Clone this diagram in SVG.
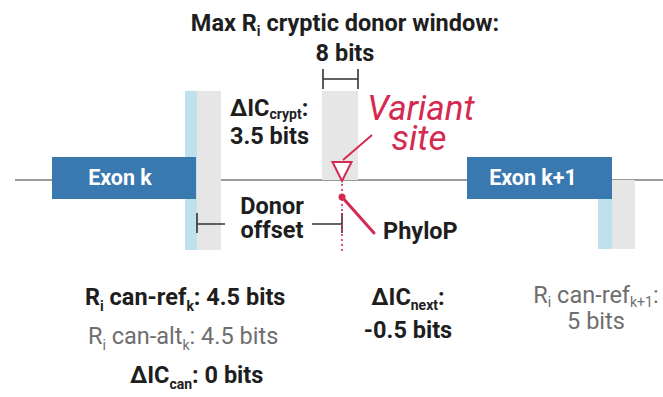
<svg xmlns="http://www.w3.org/2000/svg" width="663" height="397" viewBox="0 0 663 397">
  <style>
    text { font-family: Roboto, "Liberation Sans", sans-serif; font-size: 23.5px; }
    .b { font-weight: 700; fill: #1e1e1e; }
    .g { font-weight: 400; fill: #6e6e6e; }
    .sub { font-size: 14px; }
    .exon { fill: #3a78b0; }
    .exlabel { font-weight: 700; fill: #ffffff; font-size: 21.5px; }
    .site { fill: #bfe0ed; }
    .win { fill: #e6e6e6; }
    .red { fill: #d42a52; }
    .vs { font-size: 35px; font-style: italic; font-weight: 400; }
    .bracket { stroke: #333; stroke-width: 1.6; fill: none; }
  </style>

  <rect width="663" height="397" fill="#ffffff"/>

  <!-- intron backbone -->
  <line x1="15" y1="180" x2="663" y2="180" stroke="#9a9a9a" stroke-width="2"/>

  <!-- canonical donor window, exon k -->
  <g id="donor-k">
    <rect class="site" x="185" y="91" width="12" height="159"/>
    <rect class="win" x="197" y="91" width="24" height="159"/>
  </g>

  <!-- cryptic donor window -->
  <g id="cryptic-window">
    <rect class="win" x="322" y="91" width="36" height="89"/>
  </g>

  <!-- canonical donor window, exon k+1 -->
  <g id="donor-k1">
    <rect class="site" x="598" y="180" width="14" height="69"/>
    <rect class="win" x="612" y="180" width="23" height="69"/>
  </g>

  <g id="exon-k">
    <rect class="exon" x="52" y="157" width="144" height="42"/>
    <text class="exlabel" x="120" y="185" text-anchor="middle">Exon k</text>
  </g>

  <g id="exon-k1">
    <rect class="exon" x="467" y="157" width="145" height="42"/>
    <text class="exlabel" x="533" y="185" text-anchor="middle">Exon k+1</text>
  </g>

  <g id="connectors">
    <!-- 8 bit window bracket -->
    <path class="bracket" d="M323 69 V89 M323 79 H358 M358 69 V89"/>
    <!-- donor offset bracket -->
    <path class="bracket" d="M197 213 V233 M197 224 H225 M312 224 H342 M342 213 V233"/>
    <!-- pointer from label to variant -->
    <line x1="372" y1="135" x2="343" y2="160" stroke="#d42a52" stroke-width="2"/>
    <!-- variant position -->
    <line x1="342" y1="184" x2="342" y2="253" stroke="#d42a52" stroke-width="1.6" stroke-dasharray="2 3"/>
    <!-- PhyloP lollipop -->
    <line x1="342" y1="197" x2="374" y2="233" stroke="#d42a52" stroke-width="3" stroke-linecap="round"/>
    <circle class="red" cx="342" cy="197" r="3.5"/>
  </g>

  <g id="variant">
    <polygon points="332.5,162 351.5,162 342,181" fill="#ffffff" stroke="#d42a52" stroke-width="2" stroke-linejoin="miter"/>
    <text x="421" y="120" text-anchor="middle" class="red vs">Variant</text>
    <text x="419" y="150" text-anchor="middle" class="red vs">site</text>
  </g>

  <g id="title">
    <text class="b" x="345" y="31" text-anchor="middle">Max R<tspan class="sub" dy="5">i</tspan><tspan dy="-5"> cryptic donor window:</tspan></text>
    <text class="b" x="345" y="61" text-anchor="middle">8 bits</text>
  </g>

  <g id="delta-crypt">
    <text class="b" x="230" y="116">ΔIC<tspan class="sub" dy="3">crypt</tspan><tspan dy="-3">:</tspan></text>
    <text class="b" x="230" y="144">3.5 bits</text>
  </g>

  <g id="donor-offset">
    <text class="b" x="272" y="214" text-anchor="middle">Donor</text>
    <text class="b" x="272" y="238" text-anchor="middle">offset</text>
  </g>

  <g id="phylop">
    <text class="b" x="383" y="239">PhyloP</text>
  </g>

  <g id="scores-k">
    <text class="b" x="85" y="305">R<tspan class="sub" dy="6">i</tspan><tspan dy="-6"> can-ref</tspan><tspan class="sub" dy="6">k</tspan><tspan dy="-6">: 4.5 bits</tspan></text>
    <text class="g" x="88" y="344">R<tspan class="sub" dy="6">i</tspan><tspan dy="-6"> can-alt</tspan><tspan class="sub" dy="6">k</tspan><tspan dy="-6">: 4.5 bits</tspan></text>
    <text class="b" x="130" y="383">ΔIC<tspan class="sub" dy="6">can</tspan><tspan dy="-6">: 0 bits</tspan></text>
  </g>

  <g id="delta-next">
    <text class="b" x="408" y="305" text-anchor="middle">ΔIC<tspan class="sub" dy="5">next</tspan><tspan dy="-5">:</tspan></text>
    <text class="b" x="408" y="338" text-anchor="middle">-0.5 bits</text>
  </g>

  <g id="scores-k1">
    <text class="g" x="596" y="303" text-anchor="middle">R<tspan class="sub" dy="4">i</tspan><tspan dy="-4"> can-ref</tspan><tspan class="sub" dy="4">k+1</tspan><tspan dy="-4">:</tspan></text>
    <text class="g" x="596" y="329" text-anchor="middle">5 bits</text>
  </g>
</svg>
